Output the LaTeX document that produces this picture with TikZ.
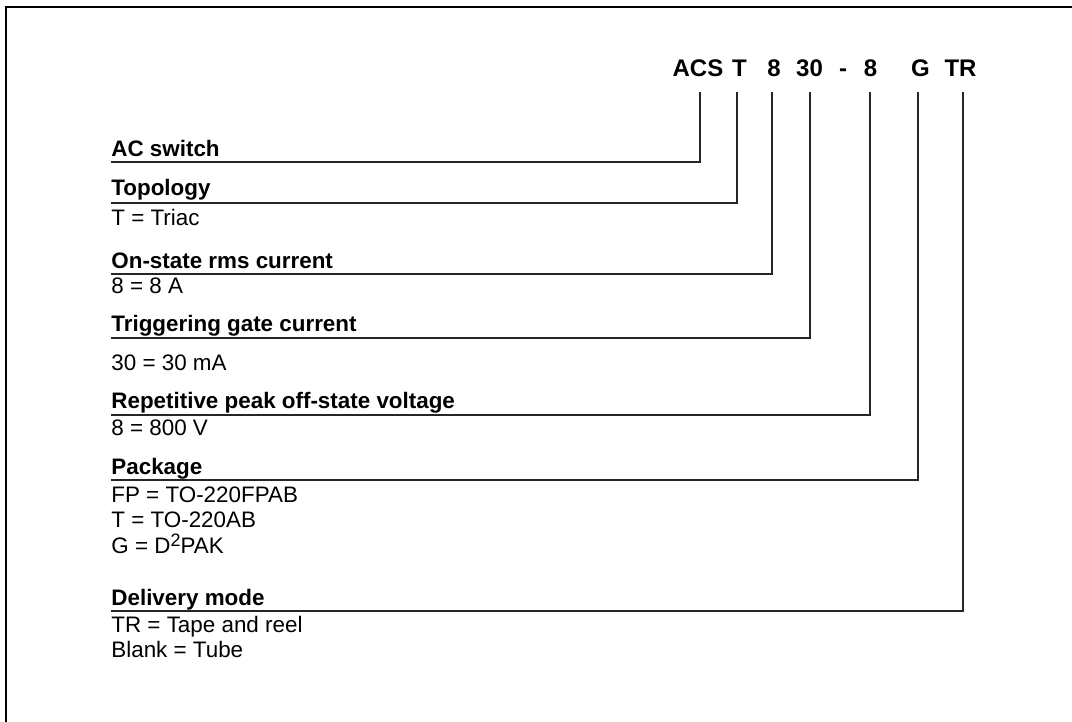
\documentclass[tikz,border=0pt]{standalone}
\usepackage{fontspec}
\setmainfont{Liberation Sans}

\tikzset{
  code/.style={anchor=base, inner sep=0pt, font=\fontsize{12}{14}\selectfont\bfseries},
  heading/.style={anchor=base west, inner sep=0pt, font=\fontsize{11.2}{13}\selectfont\bfseries},
  value/.style={anchor=base west, inner sep=0pt, font=\fontsize{11.2}{13}\selectfont},
  lead/.style={draw=black!85, line width=0.75pt},
}

\begin{document}
\begin{tikzpicture}[x=0.5pt, y=-0.5pt]
    \useasboundingbox (0,0) rectangle (1072,722);
    % frame
    \draw[line width=1pt] (6,730) -- (6,7) -- (1080,7);

    % part number
    \node[code] (acs)  at (698,77)   {ACS};
    \node[code] (topo) at (739.5,77) {T};
    \node[code] (irms) at (774,77)   {8};
    \node[code] (igt)  at (809.5,77) {30};
    \node[code] (dash) at (843,77)   {-};
    \node[code] (vdrm) at (870.5,77) {8};
    \node[code] (pack) at (920.5,77) {G};
    \node[code] (mode) at (960.5,77) {TR};

    % headings
    \node[heading] (h-acs)  at (111,157) {AC switch};
    \node[heading] (h-topo) at (111,196) {Topology};
    \node[heading] (h-irms) at (111,268) {On-state rms current};
    \node[heading] (h-igt)  at (111,331) {Triggering gate current};
    \node[heading] (h-vdrm) at (111,408) {Repetitive peak off-state voltage};
    \node[heading] (h-pack) at (111,474) {Package};
    \node[heading] (h-mode) at (111,605) {Delivery mode};

    % values
    \node[value] (v-topo)  at (111,226) {T = Triac};
    \node[value] (v-irms)  at (111,293) {8 = 8 A};
    \node[value] (v-igt)   at (111,370) {30 = 30 mA};
    \node[value] (v-vdrm)  at (111,435) {8 = 800 V};
    \node[value] (v-pack1) at (111,502) {FP = TO-220FPAB};
    \node[value] (v-pack2) at (111,527) {T = TO-220AB};
    \node[value] (v-pack3) at (111,553) {G = D\raisebox{0.55ex}{\fontsize{9}{9}\selectfont 2}PAK};
    \node[value] (v-mode1) at (111,632) {TR = Tape and reel};
    \node[value] (v-mode2) at (111,657) {Blank = Tube};

    % leader lines
    \foreach \n/\x/\y in {acs/700/162, topo/737/203, irms/772/274, igt/810/338,
                          vdrm/870/415, pack/918/480, mode/963/611} {
        \coordinate (\n-drop) at (\x,92);
        \coordinate (\n-end) at (111,\y);
        \draw[lead] (\n-drop) |- (\n-end);
    }
\end{tikzpicture}
\end{document}
